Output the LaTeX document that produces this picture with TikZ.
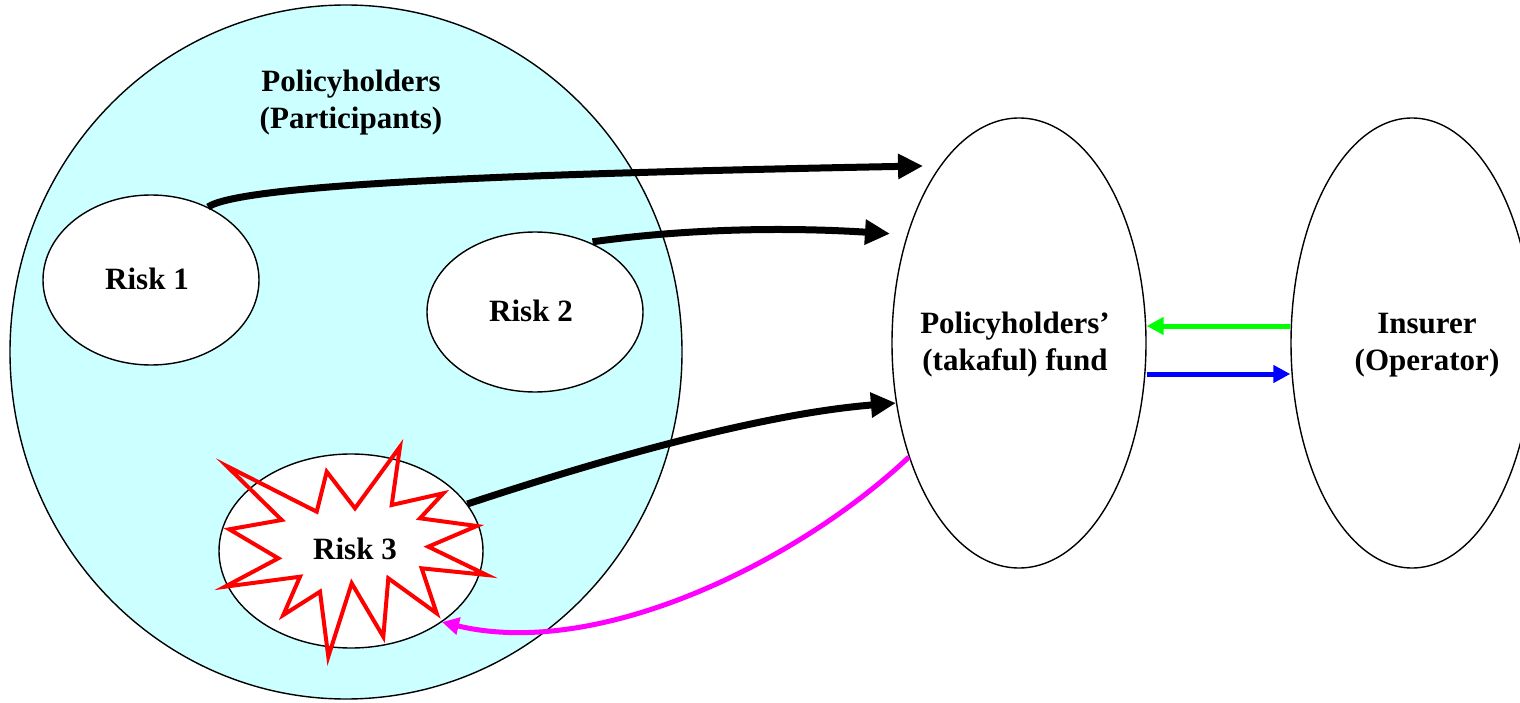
\documentclass[tikz,border=0pt]{standalone}
\usepackage{fontspec}
\setmainfont{Liberation Serif}
\usetikzlibrary{arrows.meta,shapes.geometric}
\definecolor{pool}{HTML}{CCFFFF}
\definecolor{inflow}{HTML}{00FF00}
\definecolor{outflow}{HTML}{0000FF}
\definecolor{claim}{HTML}{FF00FF}
\definecolor{burst}{HTML}{FF0000}
\begin{document}
\begin{tikzpicture}[x=1pt,y=-1pt,
  every node/.style={font=\fontsize{31}{37}\selectfont\bfseries, align=center},
  oval/.style={ellipse, draw=black, line width=1.4pt, fill=white, inner sep=0pt},
  contrib/.style={line width=7pt, -{Triangle[length=25pt,width=24pt]}},
  flow/.style={line width=5pt, -{Triangle[length=17pt,width=17pt]}}]
\clip (0,0) rectangle (1520,703);

% participants' pool
\node[oval, fill=pool, minimum width=672pt, minimum height=694pt] (pool) at (346,352) {};
\node (pooltitle) at (351,103) {Policyholders\\(Participants)};

% individual risks
\node[oval, minimum width=216pt, minimum height=170pt] (risk1) at (151,280) {};
\node[oval, minimum width=216pt, minimum height=160pt] (risk2) at (535,312) {};
\node[oval, minimum width=264pt, minimum height=194pt] (risk3) at (351,551) {};

% loss event on risk 3
\draw[burst, line width=4pt, line join=miter]
  (226.7,466) -- (316.7,511.7) -- (326.7,471.7) -- (355,508.3) -- (400,446.7)
  -- (391.7,505) -- (443.3,493.3) -- (420,518.3) -- (476.7,526) -- (428.3,546.7)
  -- (486.7,575) -- (421.7,568.3) -- (436.7,613.3) -- (388.3,578.3) -- (383.3,636.7)
  -- (351.7,583.3) -- (328.3,656.7) -- (320,591.7) -- (283.3,615) -- (300,576.7)
  -- (225,586.7) -- (278.3,558.3) -- (229.3,529.3) -- (281.7,520) -- cycle;

\node (r1text) at (147,279) {Risk 1};
\node (r2text) at (531,311) {Risk 2};
\node (r3text) at (355,549) {Risk 3};

% fund and operator
\node[oval, minimum width=254pt, minimum height=450pt] (fund) at (1019,343) {};
\node (fundtext) at (1015,345) {Policyholders’\\(takaful) fund};
\node[oval, minimum width=242pt, minimum height=450pt] (ins) at (1412,343) {};
\node (instext) at (1427,345) {Insurer\\(Operator)};

% contributions into the fund
\draw[contrib, shorten >=17pt] (risk1.52) .. controls (240,185) and (500,174) .. (fund.114);
\draw[contrib, shorten >=17pt, shorten <=3pt] (risk2.52) .. controls (700,227) and (800,228) .. (fund.136);
\draw[contrib] (risk3.22) .. controls (600,460) and (760,414) .. (fund.206);

% claim paid out of the fund
\draw[claim, flow] (fund.226) .. controls (800,560) and (600,660) .. (risk3.-38);

% exchanges between fund and operator
\draw[inflow, flow] ([yshift=17pt]ins.west) -- ([yshift=17pt]fund.east);
\draw[outflow, flow] ([yshift=-31pt]fund.east) -- ([yshift=-31pt]ins.west);
\end{tikzpicture}
\end{document}
